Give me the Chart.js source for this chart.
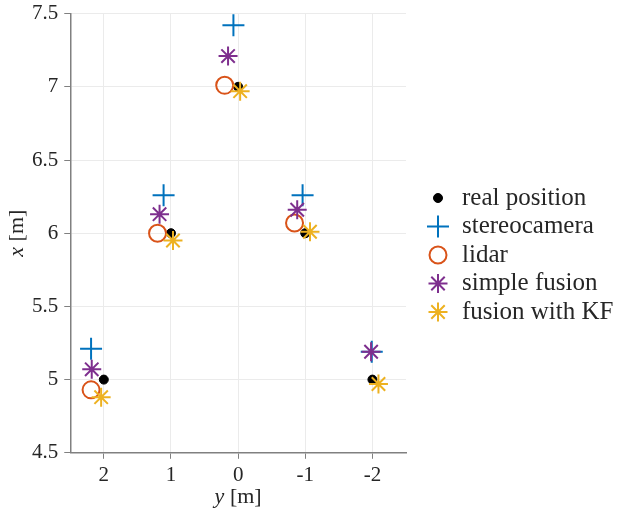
<!DOCTYPE html>
<html>
<head>
<meta charset="utf-8">
<script src="https://cdn.jsdelivr.net/npm/chart.js@4"></script>
<style>
  html, body { margin: 0; padding: 0; background: #fff; overflow: hidden; }
  #box { width: 617px; height: 519px; margin-top: -5px; }
</style>
</head>
<body>
<div id="box"><canvas id="grafico"></canvas></div>
<script>
// lateral position y [m] and longitudinal position x [m] of each marker
const seriesNames = ['real position', 'stereocamera', 'lidar', 'simple fusion', 'fusion with KF'];
const realY = [2, 1, 0, -1, -2];
const realX = [5, 6, 7, 6, 5];
const stereoY = [2.19, 1.11, 0.07, -0.96, -1.99];
const stereoX = [5.21, 6.26, 7.42, 6.26, 5.19];
const lidarY = [2.19, 1.20, 0.20, -0.84];
const lidarX = [4.93, 6.00, 7.01, 6.07];
const simpleY = [2.18, 1.17, 0.15, -0.88, -1.98];
const simpleX = [5.07, 6.13, 7.21, 6.16, 5.19];
const kfY = [2.04, 0.97, -0.03, -1.07, -2.09];
const kfX = [4.88, 5.95, 6.97, 6.01, 4.97];
const xTickValues = [2, 1, 0, -1, -2];
const yTickValues = [4.5, 5, 5.5, 6, 6.5, 7, 7.5];

const FONT = "'Liberation Serif', serif";
const TEXT = '#262626';

function pts(ys, xs) {
  return ys.map((v, i) => ({ x: v, y: xs[i] }));
}

const datasets = [
  { label: seriesNames[0], data: pts(realY, realX), pointStyle: 'circle', pointRadius: 4.5,
    backgroundColor: '#000', borderColor: '#000', borderWidth: 1, order: 5 },
  { label: seriesNames[1], data: pts(stereoY, stereoX), pointStyle: 'cross', pointRadius: 11,
    backgroundColor: '#0072BD', borderColor: '#0072BD', borderWidth: 2, order: 4 },
  { label: seriesNames[2], data: pts(lidarY, lidarX), pointStyle: 'circle', pointRadius: 8.5,
    backgroundColor: 'rgba(0,0,0,0)', borderColor: '#D95319', borderWidth: 2, order: 3 },
  { label: seriesNames[3], data: pts(simpleY, simpleX), pointStyle: 'star', pointRadius: 9.5,
    backgroundColor: '#7E2F8E', borderColor: '#7E2F8E', borderWidth: 2, order: 2 },
  { label: seriesNames[4], data: pts(kfY, kfX), pointStyle: 'star', pointRadius: 9.5,
    backgroundColor: '#EDB120', borderColor: '#EDB120', borderWidth: 2, order: 1 }
];
datasets.forEach(d => { d.pointHoverRadius = d.pointRadius; });

// italic variable + upright unit, like the LaTeX labels
function mixedLabel(ctx, v, unit, cx, cy) {
  ctx.font = 'italic 22px ' + FONT;
  const w1 = ctx.measureText(v).width;
  ctx.font = '22px ' + FONT;
  const w2 = ctx.measureText(unit).width;
  let x = cx - (w1 + w2) / 2;
  ctx.textAlign = 'left';
  ctx.textBaseline = 'middle';
  ctx.font = 'italic 22px ' + FONT;
  ctx.fillText(v, x, cy);
  ctx.font = '22px ' + FONT;
  ctx.fillText(unit, x + w1, cy);
}

const extras = {
  id: 'extras',
  afterDraw(chart) {
    const ctx = chart.ctx;
    const a = chart.chartArea;
    ctx.save();
    ctx.fillStyle = TEXT;
    mixedLabel(ctx, 'y', ' [m]', (a.left + a.right) / 2, 502);
    ctx.save();
    ctx.translate(17, (a.top + a.bottom) / 2);
    ctx.rotate(-Math.PI / 2);
    mixedLabel(ctx, 'x', ' [m]', 0, 0);
    ctx.restore();

    // legend
    const rowY = 203, rowH = 28.5;
    chart.data.datasets.forEach((d, i) => {
      const y = rowY + i * rowH;
      ctx.fillStyle = d.backgroundColor;
      ctx.strokeStyle = d.borderColor;
      ctx.lineWidth = d.borderWidth;
      Chart.helpers.drawPoint(ctx, {
        pointStyle: d.pointStyle, radius: d.pointRadius, rotation: 0, borderWidth: d.borderWidth
      }, 438, y);
      ctx.fillStyle = TEXT;
      ctx.font = '25px ' + FONT;
      ctx.textAlign = 'left';
      ctx.textBaseline = 'middle';
      ctx.fillText(d.label, 462, y);
    });
    ctx.restore();
  }
};

const ctx = document.getElementById('grafico').getContext('2d');
new Chart(ctx, {
  type: 'scatter',
  data: { datasets },
  options: {
    responsive: true,
    maintainAspectRatio: false,
    animation: false,
    layout: { padding: { left: 26, right: 211, top: 0, bottom: 22 } },
    plugins: { legend: { display: false }, tooltip: { enabled: false } },
    scales: {
      x: {
        type: 'linear', reverse: true, min: -2.5, max: 2.5,
        afterBuildTicks: s => { s.ticks = xTickValues.map(v => ({ value: v })); },
        ticks: { font: { family: FONT, size: 21 }, color: TEXT, padding: 4, maxRotation: 0,
                 callback: v => String(v) },
        grid: { color: '#ebebeb', tickColor: '#808080', tickLength: 6, lineWidth: 1 },
        border: { display: true, color: '#808080', width: 1.5 }
      },
      y: {
        type: 'linear', min: 4.5, max: 7.5,
        afterBuildTicks: s => { s.ticks = yTickValues.map(v => ({ value: v })); },
        ticks: { font: { family: FONT, size: 21 }, color: TEXT, padding: 6,
                 callback: v => String(v) },
        grid: { color: '#ebebeb', tickColor: '#808080', tickLength: 6, lineWidth: 1 },
        border: { display: true, color: '#808080', width: 1.5 }
      }
    }
  },
  plugins: [extras]
});
</script>
</body>
</html>
